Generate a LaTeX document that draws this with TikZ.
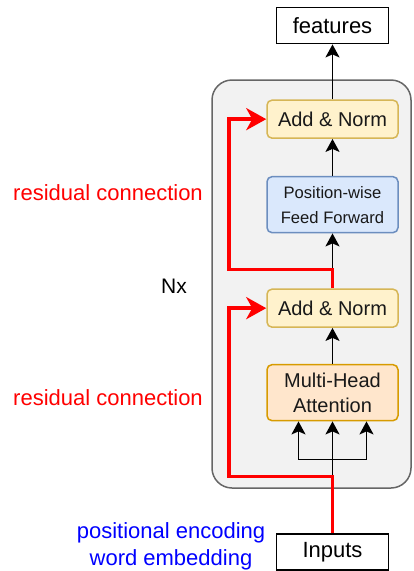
\documentclass[tikz,border=0pt]{standalone}
\usepackage{fontspec}
\setmainfont{Liberation Sans}
\usetikzlibrary{arrows.meta,positioning,calc}
\definecolor{resred}{RGB}{255,0,0}
\definecolor{encblue}{RGB}{0,0,255}
\definecolor{stackfill}{RGB}{242,242,242}
\definecolor{stackline}{RGB}{102,102,102}
\definecolor{normfill}{RGB}{255,242,204}
\definecolor{normline}{RGB}{214,182,86}
\definecolor{fffill}{RGB}{218,232,252}
\definecolor{ffline}{RGB}{108,142,191}
\definecolor{attfill}{RGB}{255,230,204}
\definecolor{attline}{RGB}{215,155,0}

\begin{document}
\begin{tikzpicture}[x=1pt, y=-1pt,
io/.style={draw=black, line width=1.8pt, minimum width=112pt, minimum height=36pt, font=\fontsize{22}{27}\selectfont},
sub/.style={rounded corners=5pt, line width=1.5pt, minimum width=131pt, align=center, text=black!90},
norm/.style={sub, draw=normline, fill=normfill, minimum height=38pt, font=\fontsize{20}{25}\selectfont},
arrow/.style={line width=1.8pt, black, -{Stealth[length=13pt, width=14pt, inset=3pt]}},
resid/.style={line width=3.5pt, resred, -{Stealth[length=20pt, width=22pt, inset=6pt]}},
note/.style={resred, font=\fontsize{22}{27}\selectfont}]
\useasboundingbox (0,0) rectangle (414,571);
% repeated block
\node[draw=stackline, fill=stackfill, line width=1.5pt, rounded corners=20pt, minimum width=199pt, minimum height=408pt] (stack) at (311.5,284) {};
\node[io] (feat) at (332.5,25.5) {features};
\node[norm, below=55pt of feat] (an2) {Add \& Norm};
\node[sub, draw=ffline, fill=fffill, minimum height=56pt, font=\fontsize{16.6}{25}\selectfont, below=37pt of an2] (ff) {Position-wise\\Feed Forward};
\node[norm, below=55pt of ff] (an1) {Add \& Norm};
\node[sub, draw=attline, fill=attfill, minimum height=56pt, font=\fontsize{20}{25}\selectfont, below=36pt of an1] (mha) {Multi-Head\\Attention};
\node[io, below=112pt of mha] (inp) {Inputs};
\node[note] (res2) at (108,193) {residual connection};
\node[note] (res1) at (108,398) {residual connection};
\node[font=\fontsize{21}{25}\selectfont] (nx) at (174,286) {Nx};
\node[encblue, align=center, font=\fontsize{22}{27}\selectfont] (enc) at (171,546) {positional encoding\\word embedding};
% junctions
\coordinate (rail) at (229,0);
\coordinate (split) at ($(mha.south)+(0,38)$);
\coordinate (loop1) at ($(inp.north)+(0,-57)$);
\coordinate (loop2) at ($(an1.north)+(0,-19)$);
% attention inputs
\draw[line width=1.8pt] (loop1) -- (split);
\draw[arrow] (split) -- (mha.south);
\draw[arrow] (split) -| ($(mha.south)+(-34,0)$);
\draw[arrow] (split) -| ($(mha.south)+(34,0)$);
\draw[arrow] (mha) -- (an1);
\draw[arrow] (loop2) -- (ff);
\draw[arrow] (ff) -- (an2);
\draw[arrow] (an2) -- (feat);
% residual paths
\draw[resid] (inp.north) -- (loop1) -- (loop1 -| rail) |- (an1.west);
\draw[resid] (an1.north) -- (loop2) -- (loop2 -| rail) |- (an2.west);
\end{tikzpicture}
\end{document}
